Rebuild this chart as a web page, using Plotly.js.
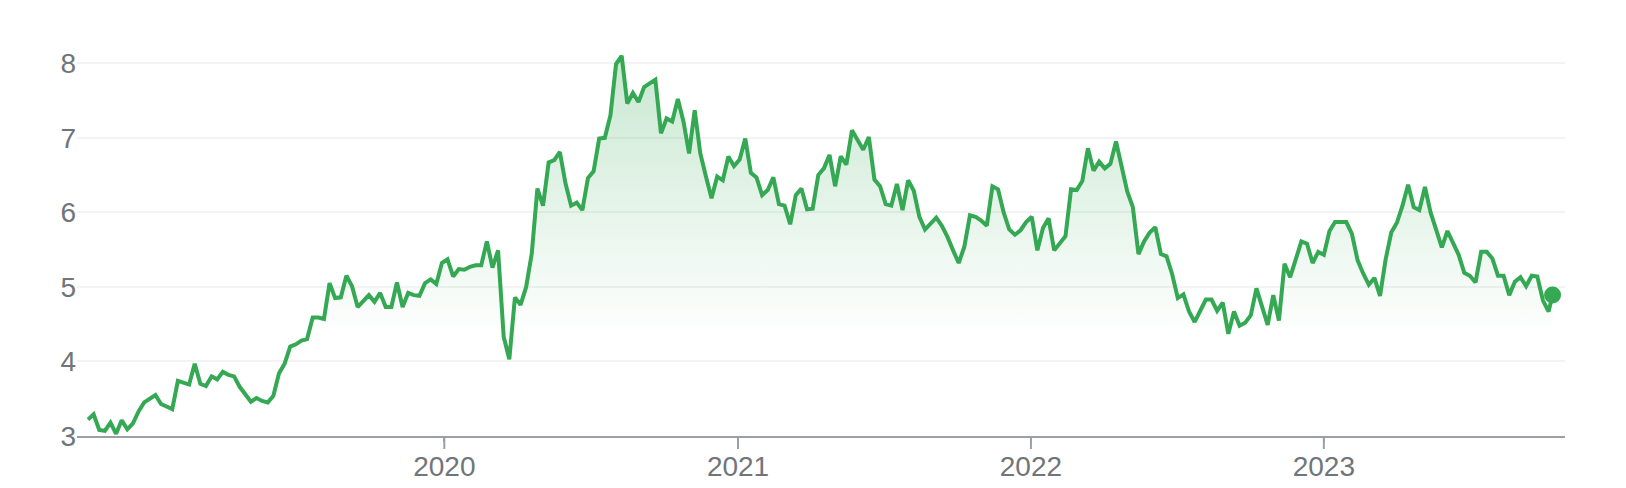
<!DOCTYPE html>
<html><head><meta charset="utf-8">
<script src="https://cdn.plot.ly/plotly-3.0.1.min.js"></script>
<style>html,body{margin:0;padding:0;background:#fff;} #chart{width:1626px;height:488px;}</style>
</head><body><div id="chart"></div>
<script>
const dates = (
"2018-10-14 2018-10-21 2018-10-28 2018-11-04 2018-11-11 2018-11-18 2018-11-25 2018-12-02 2018-12-09 2018-12-16 2018-12-23 2018-12-30 " +
"2019-01-06 2019-01-13 2019-01-20 2019-01-27 2019-02-03 2019-02-10 2019-02-17 2019-02-24 2019-03-03 2019-03-10 2019-03-17 2019-03-24 2019-03-31 " +
"2019-04-07 2019-04-14 2019-04-21 2019-04-28 2019-05-05 2019-05-12 2019-05-19 2019-05-26 2019-06-02 2019-06-09 2019-06-16 2019-06-23 2019-06-30 " +
"2019-07-07 2019-07-14 2019-07-21 2019-07-28 2019-08-04 2019-08-11 2019-08-18 2019-08-25 2019-09-01 2019-09-08 2019-09-15 2019-09-22 2019-09-29 " +
"2019-10-06 2019-10-13 2019-10-20 2019-10-27 2019-11-03 2019-11-10 2019-11-17 2019-11-24 2019-12-01 2019-12-08 2019-12-15 2019-12-22 2019-12-29 " +
"2020-01-05 2020-01-12 2020-01-19 2020-01-26 2020-02-02 2020-02-09 2020-02-16 2020-02-23 2020-03-01 2020-03-08 2020-03-15 2020-03-22 2020-03-29 " +
"2020-04-05 2020-04-12 2020-04-19 2020-04-26 2020-05-03 2020-05-10 2020-05-17 2020-05-24 2020-05-31 2020-06-07 2020-06-14 2020-06-21 2020-06-28 " +
"2020-07-05 2020-07-12 2020-07-19 2020-07-26 2020-08-02 2020-08-09 2020-08-16 2020-08-23 2020-08-30 2020-09-06 2020-09-13 2020-09-20 2020-09-27 " +
"2020-10-04 2020-10-11 2020-10-18 2020-10-25 2020-11-01 2020-11-08 2020-11-15 2020-11-22 2020-11-29 2020-12-06 2020-12-13 2020-12-20 2020-12-27 " +
"2021-01-03 2021-01-10 2021-01-17 2021-01-24 2021-01-31 2021-02-07 2021-02-14 2021-02-21 2021-02-28 2021-03-07 2021-03-14 2021-03-21 2021-03-28 " +
"2021-04-04 2021-04-11 2021-04-18 2021-04-25 2021-05-02 2021-05-09 2021-05-16 2021-05-23 2021-05-30 2021-06-06 2021-06-13 2021-06-20 2021-06-27 " +
"2021-07-04 2021-07-11 2021-07-18 2021-07-25 2021-08-01 2021-08-08 2021-08-15 2021-08-22 2021-08-29 2021-09-05 2021-09-12 2021-09-19 2021-09-26 " +
"2021-10-03 2021-10-10 2021-10-17 2021-10-24 2021-10-31 2021-11-07 2021-11-14 2021-11-21 2021-11-28 2021-12-05 2021-12-12 2021-12-19 2021-12-26 " +
"2022-01-02 2022-01-09 2022-01-16 2022-01-23 2022-01-30 2022-02-06 2022-02-13 2022-02-20 2022-02-27 2022-03-06 2022-03-13 2022-03-20 2022-03-27 " +
"2022-04-03 2022-04-10 2022-04-17 2022-04-24 2022-05-01 2022-05-08 2022-05-15 2022-05-22 2022-05-29 2022-06-05 2022-06-12 2022-06-19 2022-06-26 " +
"2022-07-03 2022-07-10 2022-07-17 2022-07-24 2022-07-31 2022-08-07 2022-08-14 2022-08-21 2022-08-28 2022-09-04 2022-09-11 2022-09-18 2022-09-25 " +
"2022-10-02 2022-10-09 2022-10-16 2022-10-23 2022-10-30 2022-11-06 2022-11-13 2022-11-20 2022-11-27 2022-12-04 2022-12-11 2022-12-18 2022-12-25 " +
"2023-01-01 2023-01-08 2023-01-15 2023-01-22 2023-01-29 2023-02-05 2023-02-12 2023-02-19 2023-02-26 2023-03-05 2023-03-12 2023-03-19 2023-03-26 " +
"2023-04-02 2023-04-09 2023-04-16 2023-04-23 2023-04-30 2023-05-07 2023-05-14 2023-05-21 2023-05-28 2023-06-04 2023-06-11 2023-06-18 2023-06-25 " +
"2023-07-02 2023-07-09 2023-07-16 2023-07-23 2023-07-30 2023-08-06 2023-08-13 2023-08-20 2023-08-27 2023-09-03 2023-09-10 2023-09-17 2023-09-24 " +
"2023-10-01 2023-10-08 2023-10-13"
).split(" ");

const prices = [
  // 2018
  3.22,3.29,3.08,3.07,3.18,3.03,3.21,3.09,3.17,3.33,3.45,3.50,
  // 2019
  3.55,3.43,3.40,3.36,3.74,3.72,3.69,3.97,3.70,3.67,3.80,3.76,3.86,3.82,3.80,3.66,3.57,3.46,3.51,3.47,3.45,3.54,3.84,3.97,
  4.20,4.23,4.28,4.30,4.59,4.59,4.57,5.05,4.85,4.86,5.15,5.01,4.73,4.82,4.89,4.80,4.92,4.73,4.73,5.06,4.73,4.92,4.89,4.88,5.05,5.10,5.04,5.32,
  // 2020
  5.37,5.14,5.24,5.23,5.27,5.29,5.29,5.61,5.26,5.49,4.33,4.03,4.86,4.76,5.00,5.45,6.32,6.09,6.67,6.70,6.81,6.39,6.09,6.13,6.03,6.46,
  6.55,6.99,7.00,7.30,7.99,8.10,7.46,7.60,7.48,7.68,7.73,7.78,7.06,7.26,7.22,7.52,7.22,6.79,7.37,6.79,6.48,6.19,6.48,6.43,6.75,6.62,
  // 2021
  6.71,6.99,6.53,6.47,6.23,6.30,6.47,6.11,6.09,5.84,6.23,6.32,6.04,6.05,6.50,6.59,6.77,6.35,6.75,6.64,7.10,6.98,6.84,7.01,6.44,6.35,
  6.11,6.09,6.38,6.03,6.43,6.29,5.94,5.77,5.86,5.93,5.82,5.67,5.49,5.32,5.54,5.96,5.94,5.89,5.82,6.35,6.31,6.00,5.77,5.70,5.76,5.87,
  // 2022
  5.94,5.49,5.79,5.92,5.49,5.59,5.68,6.31,6.30,6.42,6.86,6.56,6.68,6.59,6.65,6.95,6.61,6.28,6.07,5.44,5.61,5.73,5.80,5.44,5.41,5.17,
  4.85,4.90,4.67,4.53,4.68,4.83,4.83,4.68,4.79,4.37,4.67,4.48,4.52,4.62,4.98,4.73,4.49,4.89,4.55,5.31,5.13,5.37,5.61,5.58,5.32,5.47,
  // 2023
  5.43,5.75,5.87,5.87,5.87,5.71,5.36,5.18,5.03,5.12,4.88,5.37,5.73,5.86,6.09,6.37,6.07,6.03,6.34,6.00,5.76,
  5.53,5.75,5.58,5.43,5.19,5.15,5.06,5.47,5.47,5.38,5.15,5.15,4.89,5.07,5.13,5.01,5.15,5.14,4.82,4.67,
  4.89
];

const yTickVals = [3, 4, 5, 6, 7, 8];
const xTickVals = ['2020-01-01', '2021-01-01', '2022-01-01', '2023-01-01'];
const xTickText = ['2020', '2021', '2022', '2023'];

const GREEN = 'rgb(52,168,83)';
const FONT = 'Arial, "Liberation Sans", sans-serif';
const TEXT = '#70757a';
const AXIS = '#9aa0a6';

const area = {
  x: dates, y: prices, type: 'scatter', mode: 'lines',
  line: {color: GREEN, width: 4, shape: 'linear'},
  fill: 'tozeroy',
  fillgradient: {type: 'vertical', start: 4.3, stop: 8.1,
    colorscale: [[0, 'rgba(52,168,83,0)'], [1, 'rgba(52,168,83,0.27)']]},
  hoverinfo: 'skip'
};
const lastPoint = {
  x: [dates[dates.length - 1]], y: [prices[prices.length - 1]],
  type: 'scatter', mode: 'markers',
  marker: {color: GREEN, size: 17},
  hoverinfo: 'skip'
};

// long tick marks below the axis at each year tick (labels sit close to the axis)
const tickShapes = xTickVals.map(v => ({
  type: 'line', xref: 'x', yref: 'paper', x0: v, x1: v, y0: 0, y1: -13 / 410,
  line: {color: AXIS, width: 2}, layer: 'above'
}));

const layout = {
  width: 1626, height: 488,
  margin: {l: 77, r: 61, t: 26, b: 52, pad: 0},
  paper_bgcolor: '#ffffff', plot_bgcolor: '#ffffff',
  showlegend: false,
  font: {family: FONT, color: TEXT, size: 28},
  shapes: tickShapes,
  xaxis: {
    type: 'date', range: ['2018-09-30 07:00', '2023-10-28 12:00'],
    tickmode: 'array', tickvals: xTickVals, ticktext: xTickText,
    ticks: 'outside', ticklen: 4, tickwidth: 2, tickcolor: AXIS,
    showline: true, linecolor: AXIS, linewidth: 2,
    showgrid: false, zeroline: false,
    tickfont: {family: FONT, size: 28, color: TEXT}
  },
  yaxis: {
    range: [3, 8.5], tickmode: 'array', tickvals: yTickVals,
    ticks: '', showline: false, zeroline: false,
    showgrid: true, gridcolor: '#f1f3f4', gridwidth: 2,
    tickfont: {family: FONT, size: 28, color: TEXT}
  }
};

Plotly.newPlot('chart', [area, lastPoint], layout, {staticPlot: true, displayModeBar: false});
</script>
</body></html>
